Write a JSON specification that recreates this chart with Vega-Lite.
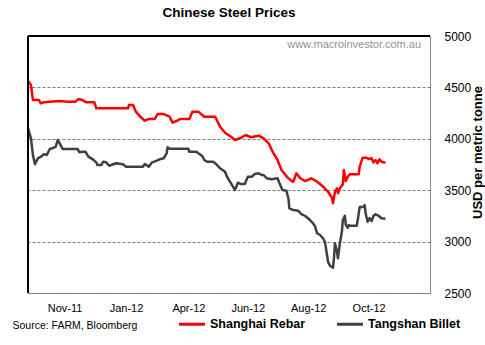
{
  "$schema": "https://vega.github.io/schema/vega-lite/v6.json",
  "width": 402,
  "height": 257,
  "autosize": {"type": "none"},
  "padding": {"left": 28, "top": 36, "right": 55, "bottom": 52},
  "background": "#ffffff",
  "config": {
    "view": {"stroke": "#8a8a8a", "strokeWidth": 1},
    "font": "Liberation Sans"
  },
  "title": {
    "text": "Chinese Steel Prices",
    "font": "Liberation Sans",
    "fontSize": 13.5,
    "fontWeight": "bold",
    "color": "#000000",
    "anchor": "middle",
    "offset": 11
  },
  "datasets": {
    "rebar": [
      {"d": "2011-10-23", "p": 4562}, {"d": "2011-10-26", "p": 4523}, {"d": "2011-10-28", "p": 4377},
      {"d": "2011-11-03", "p": 4377}, {"d": "2011-11-05", "p": 4345}, {"d": "2011-11-08", "p": 4355},
      {"d": "2011-11-14", "p": 4361}, {"d": "2011-11-24", "p": 4368}, {"d": "2011-12-02", "p": 4361},
      {"d": "2011-12-10", "p": 4361}, {"d": "2011-12-13", "p": 4387}, {"d": "2011-12-17", "p": 4377},
      {"d": "2011-12-21", "p": 4355}, {"d": "2011-12-29", "p": 4355}, {"d": "2011-12-31", "p": 4297},
      {"d": "2012-02-01", "p": 4297}, {"d": "2012-02-02", "p": 4329}, {"d": "2012-02-06", "p": 4329},
      {"d": "2012-02-09", "p": 4264}, {"d": "2012-02-14", "p": 4209}, {"d": "2012-02-18", "p": 4176},
      {"d": "2012-02-22", "p": 4193}, {"d": "2012-02-28", "p": 4193}, {"d": "2012-03-02", "p": 4241},
      {"d": "2012-03-08", "p": 4241}, {"d": "2012-03-14", "p": 4215}, {"d": "2012-03-17", "p": 4157},
      {"d": "2012-03-21", "p": 4173}, {"d": "2012-03-25", "p": 4193}, {"d": "2012-04-03", "p": 4193},
      {"d": "2012-04-06", "p": 4264}, {"d": "2012-04-12", "p": 4264}, {"d": "2012-04-18", "p": 4215},
      {"d": "2012-04-29", "p": 4215}, {"d": "2012-05-04", "p": 4118}, {"d": "2012-05-09", "p": 4059},
      {"d": "2012-05-15", "p": 4020}, {"d": "2012-05-19", "p": 3988}, {"d": "2012-05-24", "p": 4005},
      {"d": "2012-05-30", "p": 4037}, {"d": "2012-06-04", "p": 4015}, {"d": "2012-06-12", "p": 4030},
      {"d": "2012-06-17", "p": 4005}, {"d": "2012-06-22", "p": 3956}, {"d": "2012-06-26", "p": 3874},
      {"d": "2012-07-01", "p": 3794}, {"d": "2012-07-05", "p": 3696}, {"d": "2012-07-11", "p": 3625},
      {"d": "2012-07-16", "p": 3583}, {"d": "2012-07-17", "p": 3583}, {"d": "2012-07-20", "p": 3664},
      {"d": "2012-07-24", "p": 3616}, {"d": "2012-07-29", "p": 3589}, {"d": "2012-08-04", "p": 3616},
      {"d": "2012-08-10", "p": 3583}, {"d": "2012-08-15", "p": 3544}, {"d": "2012-08-21", "p": 3485},
      {"d": "2012-08-25", "p": 3427}, {"d": "2012-08-26", "p": 3372}, {"d": "2012-08-28", "p": 3485},
      {"d": "2012-08-30", "p": 3518}, {"d": "2012-08-31", "p": 3470}, {"d": "2012-09-02", "p": 3518},
      {"d": "2012-09-05", "p": 3557}, {"d": "2012-09-06", "p": 3696}, {"d": "2012-09-08", "p": 3589},
      {"d": "2012-09-10", "p": 3631}, {"d": "2012-09-12", "p": 3655}, {"d": "2012-09-21", "p": 3655},
      {"d": "2012-09-22", "p": 3729}, {"d": "2012-09-25", "p": 3816}, {"d": "2012-09-29", "p": 3816},
      {"d": "2012-10-01", "p": 3803}, {"d": "2012-10-04", "p": 3810}, {"d": "2012-10-06", "p": 3771},
      {"d": "2012-10-08", "p": 3794}, {"d": "2012-10-10", "p": 3762}, {"d": "2012-10-12", "p": 3801},
      {"d": "2012-10-14", "p": 3777}, {"d": "2012-10-18", "p": 3767}
    ],
    "billet": [
      {"d": "2011-10-23", "p": 4102}, {"d": "2011-10-26", "p": 4005}, {"d": "2011-10-28", "p": 3842},
      {"d": "2011-10-30", "p": 3752}, {"d": "2011-11-02", "p": 3810}, {"d": "2011-11-05", "p": 3826},
      {"d": "2011-11-08", "p": 3849}, {"d": "2011-11-11", "p": 3842}, {"d": "2011-11-14", "p": 3901},
      {"d": "2011-11-18", "p": 3913}, {"d": "2011-11-20", "p": 3923}, {"d": "2011-11-22", "p": 3988},
      {"d": "2011-11-24", "p": 3956}, {"d": "2011-11-27", "p": 3901}, {"d": "2011-12-12", "p": 3901},
      {"d": "2011-12-14", "p": 3869}, {"d": "2011-12-17", "p": 3874}, {"d": "2011-12-20", "p": 3874},
      {"d": "2011-12-23", "p": 3826}, {"d": "2011-12-27", "p": 3803}, {"d": "2011-12-31", "p": 3771},
      {"d": "2012-01-01", "p": 3745}, {"d": "2012-01-05", "p": 3745}, {"d": "2012-01-07", "p": 3777},
      {"d": "2012-01-10", "p": 3771}, {"d": "2012-01-13", "p": 3738}, {"d": "2012-01-17", "p": 3752},
      {"d": "2012-01-20", "p": 3762}, {"d": "2012-01-27", "p": 3752}, {"d": "2012-01-30", "p": 3729},
      {"d": "2012-02-02", "p": 3729}, {"d": "2012-02-16", "p": 3729}, {"d": "2012-02-18", "p": 3755},
      {"d": "2012-02-22", "p": 3729}, {"d": "2012-02-25", "p": 3768}, {"d": "2012-03-01", "p": 3787},
      {"d": "2012-03-04", "p": 3801}, {"d": "2012-03-08", "p": 3810}, {"d": "2012-03-11", "p": 3859},
      {"d": "2012-03-12", "p": 3917}, {"d": "2012-03-14", "p": 3903}, {"d": "2012-04-02", "p": 3903},
      {"d": "2012-04-03", "p": 3874}, {"d": "2012-04-10", "p": 3874}, {"d": "2012-04-12", "p": 3859},
      {"d": "2012-04-16", "p": 3833}, {"d": "2012-04-18", "p": 3794}, {"d": "2012-04-21", "p": 3777},
      {"d": "2012-04-27", "p": 3777}, {"d": "2012-04-30", "p": 3755}, {"d": "2012-05-04", "p": 3713},
      {"d": "2012-05-09", "p": 3680}, {"d": "2012-05-11", "p": 3631}, {"d": "2012-05-14", "p": 3583},
      {"d": "2012-05-17", "p": 3534}, {"d": "2012-05-19", "p": 3502}, {"d": "2012-05-22", "p": 3573},
      {"d": "2012-05-25", "p": 3560}, {"d": "2012-05-29", "p": 3560}, {"d": "2012-06-01", "p": 3631},
      {"d": "2012-06-05", "p": 3631}, {"d": "2012-06-08", "p": 3658}, {"d": "2012-06-12", "p": 3664},
      {"d": "2012-06-15", "p": 3648}, {"d": "2012-06-17", "p": 3648}, {"d": "2012-06-20", "p": 3616},
      {"d": "2012-06-25", "p": 3606}, {"d": "2012-07-01", "p": 3616}, {"d": "2012-07-03", "p": 3567},
      {"d": "2012-07-06", "p": 3502}, {"d": "2012-07-10", "p": 3495}, {"d": "2012-07-12", "p": 3421},
      {"d": "2012-07-13", "p": 3324}, {"d": "2012-07-17", "p": 3307}, {"d": "2012-07-22", "p": 3300},
      {"d": "2012-07-25", "p": 3268}, {"d": "2012-07-29", "p": 3249}, {"d": "2012-08-02", "p": 3217},
      {"d": "2012-08-06", "p": 3178}, {"d": "2012-08-08", "p": 3145}, {"d": "2012-08-10", "p": 3081},
      {"d": "2012-08-13", "p": 3064}, {"d": "2012-08-16", "p": 3032}, {"d": "2012-08-18", "p": 2993},
      {"d": "2012-08-20", "p": 2870}, {"d": "2012-08-21", "p": 2804}, {"d": "2012-08-23", "p": 2766},
      {"d": "2012-08-26", "p": 2746}, {"d": "2012-08-27", "p": 2837}, {"d": "2012-08-28", "p": 2983},
      {"d": "2012-08-30", "p": 2908}, {"d": "2012-08-31", "p": 2837}, {"d": "2012-09-02", "p": 2983},
      {"d": "2012-09-04", "p": 3096}, {"d": "2012-09-05", "p": 3210}, {"d": "2012-09-07", "p": 3252},
      {"d": "2012-09-08", "p": 3161}, {"d": "2012-09-10", "p": 3135}, {"d": "2012-09-11", "p": 3161},
      {"d": "2012-09-12", "p": 3155}, {"d": "2012-09-19", "p": 3155}, {"d": "2012-09-20", "p": 3210},
      {"d": "2012-09-22", "p": 3337}, {"d": "2012-09-26", "p": 3337}, {"d": "2012-09-27", "p": 3356},
      {"d": "2012-09-28", "p": 3275}, {"d": "2012-09-30", "p": 3193}, {"d": "2012-10-02", "p": 3229},
      {"d": "2012-10-04", "p": 3200}, {"d": "2012-10-06", "p": 3252}, {"d": "2012-10-08", "p": 3266},
      {"d": "2012-10-11", "p": 3252}, {"d": "2012-10-14", "p": 3227}, {"d": "2012-10-18", "p": 3223}
    ],
    "one": [{}]
  },
  "layer": [
    {
      "data": {"name": "billet"},
      "mark": {"type": "line", "strokeWidth": 2.5, "strokeJoin": "round"},
      "encoding": {
        "x": {
          "field": "d", "type": "temporal",
          "scale": {"domain": [{"year": 2011, "month": 10, "date": 23}, {"year": 2012, "month": 12, "date": 2}]},
          "axis": {
            "values": [
              {"year": 2011, "month": 11, "date": 29},
              {"year": 2012, "month": 1, "date": 30},
              {"year": 2012, "month": 4, "date": 2},
              {"year": 2012, "month": 6, "date": 1},
              {"year": 2012, "month": 8, "date": 1},
              {"year": 2012, "month": 10, "date": 1}
            ],
            "format": "%b-%y",
            "labelFlush": false,
            "labelOverlap": false,
            "grid": false,
            "ticks": false,
            "domain": false,
            "labelPadding": 9,
            "labelFont": "Liberation Sans",
            "labelFontSize": 11,
            "labelColor": "#000000",
            "title": "Source: FARM, Bloomberg",
            "titleFont": "Liberation Sans",
            "titleFontSize": 10.5,
            "titleFontWeight": "normal",
            "titleColor": "#000000",
            "titleAnchor": "start",
            "titleAlign": "left",
            "titleBaseline": "middle",
            "titleX": -16,
            "titleY": 32
          }
        },
        "y": {
          "field": "p", "type": "quantitative",
          "scale": {"domain": [2500, 5000], "nice": false, "zero": false},
          "axis": {
            "orient": "right",
            "values": [2500, 3000, 3500, 4000, 4500, 5000],
            "format": "d",
            "grid": true,
            "gridColor": "#6f7f7f",
            "gridDash": [3, 2],
            "gridWidth": 1,
            "domain": false,
            "ticks": false,
            "labelFlush": false,
            "labelPadding": 14,
            "labelFont": "Liberation Sans",
            "labelFontSize": 12,
            "labelColor": "#000000",
            "labelAlign": "left",
            "labelBaseline": "middle",
            "title": "USD per metric tonne",
            "titleFont": "Liberation Sans",
            "titleFontSize": 13,
            "titleFontWeight": "bold",
            "titleColor": "#000000",
            "titleAngle": 270,
            "titleAlign": "center",
            "titleBaseline": "middle",
            "titleX": 47,
            "titleY": 116
          }
        },
        "color": {
          "datum": "Tangshan Billet",
          "type": "nominal",
          "scale": {"domain": ["Shanghai Rebar", "Tangshan Billet"], "range": ["#ff0000", "#404040"]},
          "legend": {
            "orient": "none",
            "direction": "horizontal",
            "legendX": 149,
            "legendY": 273,
            "title": null,
            "symbolType": "stroke",
            "symbolStrokeWidth": 3,
            "symbolSize": 680,
            "labelFont": "Liberation Sans",
            "labelFontSize": 12.5,
            "labelFontWeight": "bold",
            "labelColor": "#000000",
            "labelOffset": 3,
            "columnPadding": 24
          }
        }
      }
    },
    {
      "data": {"name": "rebar"},
      "mark": {"type": "line", "strokeWidth": 2.5, "strokeJoin": "round"},
      "encoding": {
        "x": {"field": "d", "type": "temporal"},
        "y": {"field": "p", "type": "quantitative"},
        "color": {"datum": "Shanghai Rebar", "type": "nominal"}
      }
    },
    {
      "data": {"name": "one"},
      "mark": {"type": "text", "align": "right", "baseline": "middle", "font": "Liberation Sans", "fontSize": 11, "color": "#8a949c"},
      "encoding": {
        "x": {"datum": {"year": 2012, "month": 11, "date": 23}, "type": "temporal"},
        "y": {"datum": 4912, "type": "quantitative"},
        "text": {"value": "www.macroinvestor.com.au"}
      }
    },
    {
      "data": {"name": "one"},
      "mark": {"type": "rule", "color": "#000000", "strokeWidth": 2},
      "encoding": {
        "x": {"datum": {"year": 2011, "month": 10, "date": 23}, "type": "temporal"}
      }
    },
    {
      "data": {"name": "one"},
      "mark": {"type": "rule", "color": "#000000", "strokeWidth": 2},
      "encoding": {
        "y": {"datum": 5000, "type": "quantitative"}
      }
    }
  ]
}
